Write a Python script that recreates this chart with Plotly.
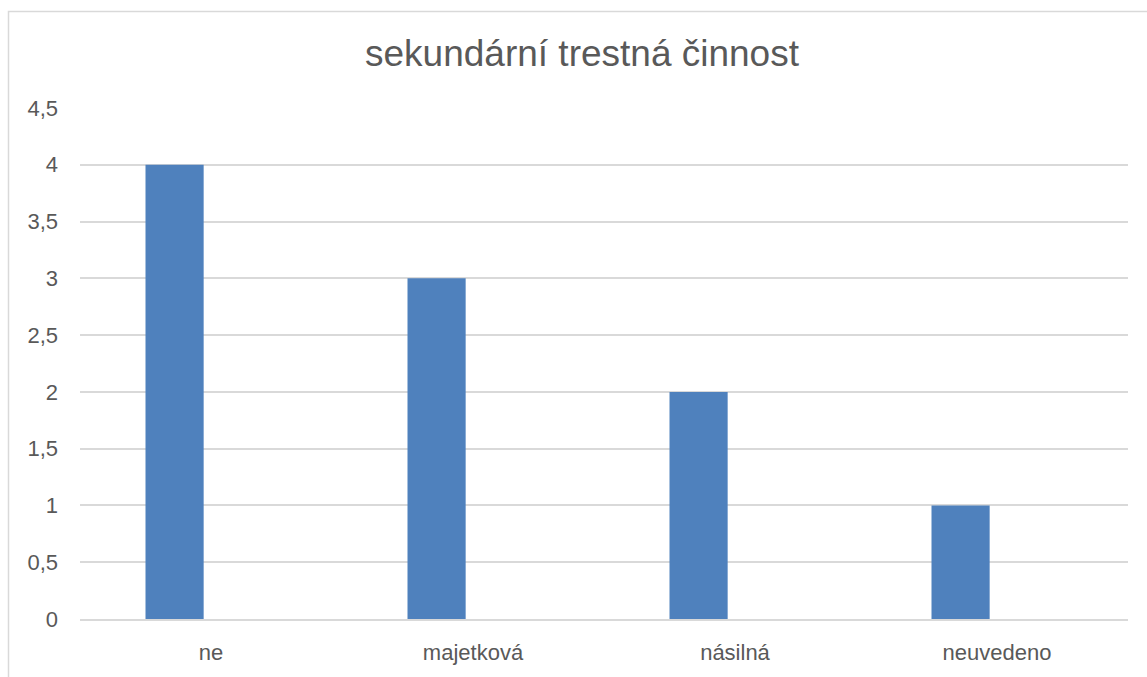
import plotly.graph_objects as go

categories = ["ne", "majetková", "násilná", "neuvedeno"]
values = [4, 3, 2, 1]
y_ticks = [0, 0.5, 1, 1.5, 2, 2.5, 3, 3.5, 4, 4.5]

TEXT = "#595959"
GRID = "#D9D9D9"
FONT = "Liberation Sans, Arial, sans-serif"

fig = go.Figure()
fig.add_trace(go.Bar(
    x=categories, y=values,
    marker=dict(color="#4F81BD", line=dict(width=0)),
    width=0.222, offset=-0.25,
    hoverinfo="x+y",
))

W, H = 1147, 677
L, R, T, B = 80, 19, 108, 55
pw, ph = W - L - R, H - T - B

fig.update_layout(
    width=W, height=H,
    margin=dict(l=L, r=R, t=T, b=B),
    paper_bgcolor="white", plot_bgcolor="white",
    separators=", ",
    showlegend=False,
    font=dict(family=FONT, color=TEXT),
    title=dict(text="sekundární trestná činnost", x=582 / W, xanchor="center",
               y=1 - 66 / H, yanchor="bottom", xref="container", yref="container",
               font=dict(size=37, color=TEXT, family=FONT)),
    xaxis=dict(showgrid=False, showline=True, linecolor=GRID, linewidth=1.5,
               ticks="", tickfont=dict(size=22, color=TEXT), ticklabelstandoff=13,
               range=[-0.5, 3.5], fixedrange=True),
    yaxis=dict(range=[0, 4.5], tickvals=y_ticks, showgrid=True, gridcolor=GRID,
               gridwidth=1.5, zeroline=False, showline=False, ticks="",
               tickfont=dict(size=22, color=TEXT), ticklabelstandoff=21,
               tickformat=".1~f", fixedrange=True),
    shapes=[dict(type="rect", xref="paper", yref="paper",
                 x0=(8.5 - L) / pw, x1=1.2, y0=-0.3, y1=1 + (T - 11) / ph,
                 line=dict(color=GRID, width=1.5), fillcolor="rgba(0,0,0,0)",
                 layer="below")],
)

fig.write_html("out.html", config={"displayModeBar": False},
               post_script="document.body.style.margin='0';document.body.style.overflow='hidden';")
